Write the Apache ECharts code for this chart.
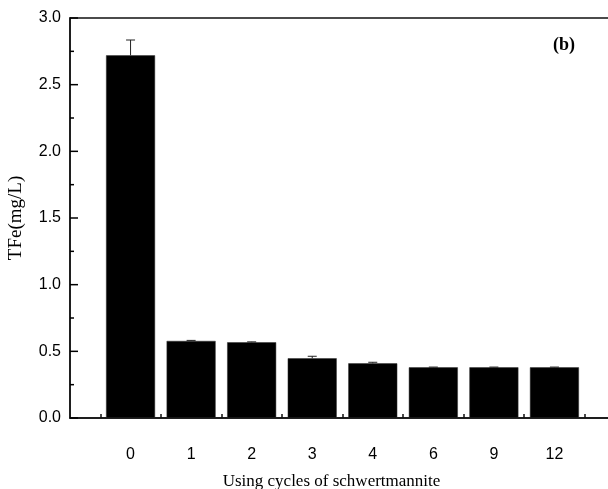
<!DOCTYPE html>
<html>
<head>
<meta charset="utf-8">
<script src="https://cdn.jsdelivr.net/npm/echarts@6/dist/echarts.min.js"></script>
<style>
  html, body { margin: 0; padding: 0; background: #fff; }
  #chart { width: 608px; height: 489px; }
</style>
</head>
<body>
<div id="chart"></div>
<script>
const cycles = ["0", "1", "2", "3", "4", "6", "9", "12"];
const tfe = [2.72, 0.578, 0.568, 0.448, 0.41, 0.38, 0.38, 0.38];
const tfeErr = [0.115, 0.004, 0.003, 0.015, 0.008, 0.002, 0.002, 0.002];
const yTicks = [0, 0.5, 1.0, 1.5, 2.0, 2.5, 3.0];

// positions of the categories on the x value axis
const pos = cycles.map((c, i) => i);
const tickPos = cycles.map((c, i) => i - 0.5).concat([cycles.length - 0.5]);
const xMin = -1;

// y tick marks: [tick value, length] – majors on the labels, minors halfway
const yTickMarks = yTicks.map((t) => [t, 8]).concat(
  yTicks.slice(1).map((t) => [t - 0.25, 4])
);

const chart = echarts.init(document.getElementById("chart"), null, { renderer: "canvas" });

const axisColor = "#111";

const option = {
  animation: false,
  backgroundColor: "#fff",
  grid: {
    left: 70,
    right: -7,
    top: 18,
    bottom: 71,
    outerBoundsMode: "none",
    containLabel: false,
    show: true,
    borderColor: axisColor,
    borderWidth: 1.5,
  },
  xAxis: {
    type: "value",
    min: xMin,
    max: 8,
    name: "Using cycles of schwertmannite",
    nameLocation: "middle",
    nameGap: 55,
    nameTextStyle: {
      fontFamily: "Liberation Serif",
      fontSize: 17,
      color: "#000",
      padding: [0, 22, 0, 0],
    },
    axisLine: { show: true, onZero: false, lineStyle: { color: axisColor, width: 1.5 } },
    axisTick: {
      show: true,
      inside: true,
      length: 4,
      customValues: tickPos,
      lineStyle: { color: axisColor, width: 1.5 },
    },
    axisLabel: {
      customValues: pos,
      formatter: (v) => cycles[Math.round(v)],
      fontFamily: "Liberation Sans",
      fontSize: 16,
      color: "#000",
      margin: 29,
    },
    splitLine: { show: false },
  },
  yAxis: {
    type: "value",
    min: 0,
    max: 3,
    interval: 0.5,
    name: "TFe(mg/L)",
    nameLocation: "middle",
    nameGap: 44,
    nameTextStyle: {
      fontFamily: "Liberation Serif",
      fontSize: 19,
      color: "#000",
    },
    axisLine: { show: true, onZero: false, lineStyle: { color: axisColor, width: 1.5 } },
    axisTick: { show: false },
    axisLabel: {
      formatter: (v) => v.toFixed(1),
      fontFamily: "Liberation Sans",
      fontSize: 16,
      color: "#000",
      margin: 9,
    },
    splitLine: { show: false },
  },
  series: [
    {
      type: "bar",
      barWidth: 49,
      data: pos.map((p, i) => [p, tfe[i]]),
      itemStyle: { color: "#000", borderColor: "#333", borderWidth: 0.5 },
      z: 2,
    },
    {
      // error bars (upper half only shows above the black bars)
      type: "custom",
      z: 3,
      data: pos.map((p, i) => [p, tfe[i], tfeErr[i]]),
      renderItem: (params, api) => {
        const x = api.value(0);
        const v = api.value(1);
        const e = api.value(2);
        const lo = api.coord([x, v]);
        const hi = api.coord([x, v + e]);
        const half = 4.5;
        const style = { stroke: "#222", lineWidth: 1 };
        return {
          type: "group",
          children: [
            { type: "line", shape: { x1: lo[0], y1: lo[1], x2: hi[0], y2: hi[1] }, style },
            { type: "line", shape: { x1: hi[0] - half, y1: hi[1], x2: hi[0] + half, y2: hi[1] }, style },
          ],
        };
      },
    },
    {
      // inward y ticks, placed through the y scale, on their own layer
      type: "custom",
      zlevel: 1,
      z: 10,
      clip: false,
      silent: true,
      data: yTickMarks.map((m) => [xMin, m[0], m[1]]),
      renderItem: (params, api) => {
        const p = api.coord([api.value(0), api.value(1)]);
        const len = api.value(2);
        return {
          type: "line",
          shape: { x1: p[0], y1: p[1], x2: p[0] + len, y2: p[1] },
          style: { stroke: "#000", lineWidth: 1.5 },
        };
      },
    },
  ],
  graphic: [
    {
      type: "text",
      left: 553,
      top: 36,
      style: {
        text: "(b)",
        font: "bold 18px 'Liberation Serif'",
        fill: "#000",
      },
    },
  ],
};

chart.setOption(option);
</script>
</body>
</html>
